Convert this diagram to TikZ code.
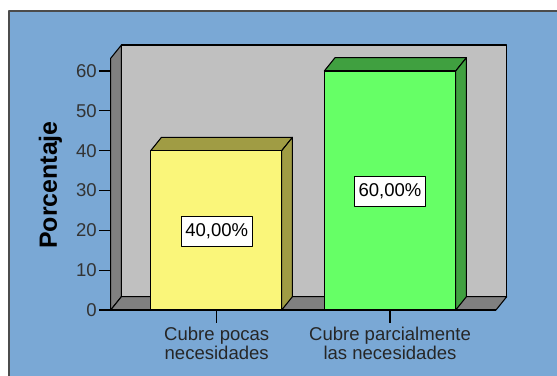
\documentclass[tikz,border=0pt]{standalone}
\usepackage{fontspec}
\setmainfont{Liberation Sans}
\usetikzlibrary{calc}
\definecolor{panelblue}{RGB}{122,168,213}
\definecolor{wallgray}{RGB}{192,192,192}
\definecolor{sidegray}{RGB}{128,128,128}
\definecolor{baryellow}{RGB}{250,246,122}
\definecolor{darkyellow}{RGB}{160,156,68}
\definecolor{bargreen}{RGB}{102,255,102}
\definecolor{darkgreen}{RGB}{64,160,64}

\begin{document}
\begin{tikzpicture}[x=0.75pt,y=-0.75pt,line join=round,
  edge/.style={draw=black, line width=0.8pt},
  valuebox/.style={draw=black, line width=0.6pt, fill=white, inner xsep=3pt,
    minimum height=22.5pt, font=\fontsize{13.9}{16}\selectfont},
  ticklabel/.style={anchor=east, inner sep=0pt, text=black!80,
    font=\fontsize{13.9}{16}\selectfont},
  catlabel/.style={anchor=north, align=center, inner sep=0pt, text=black!85,
    font=\fontsize{13.9}{12.5}\selectfont}]

  % Page and panel
  \useasboundingbox (0,0) rectangle (557,375);
  \clip (0,0) rectangle (557,375);
  \fill[white] (0,0) rectangle (557,375);
  \draw[fill=panelblue, draw=black!70, line width=0.8pt] (9,11) rectangle (580,400);

  % Back wall
  \fill[wallgray, edge] (121.4,45) rectangle (506.7,296.7);

  % Side wall and floor
  \fill[sidegray, edge] (110.7,310) -- (110.7,58.3) -- (121.4,45) -- (121.4,296.7) -- cycle;
  \fill[sidegray, edge] (110.7,310) -- (121.4,296.7) -- (506.7,296.7) -- (496,310) -- cycle;

  % Yellow bar (40)
  \fill[darkyellow, edge] (150.7,150.7) -- (161.4,137.4) -- (292.4,137.4) -- (281.7,150.7) -- cycle;
  \fill[darkyellow, edge] (281.7,150.7) -- (292.4,137.4) -- (292.4,296.7) -- (281.7,310) -- cycle;
  \fill[baryellow, edge] (150.7,150.7) rectangle (281.7,310);

  % Green bar (60)
  \fill[darkgreen, edge] (324.3,71) -- (335,57.7) -- (466.4,57.7) -- (455.7,71) -- cycle;
  \fill[darkgreen, edge] (455.7,71) -- (466.4,57.7) -- (466.4,296.7) -- (455.7,310) -- cycle;
  \fill[bargreen, edge] (324.3,71) rectangle (455.7,310);

  % Axes and ticks
  \draw[edge] (110.7,310) -- (110.7,58.3);
  \draw[edge] (99,310) -- (496,310);
  \draw[edge] (99,310) -- (110.7,310);
  \draw[edge] (99,270.2) -- (110.7,270.2);
  \draw[edge] (99,230.3) -- (110.7,230.3);
  \draw[edge] (99,190.5) -- (110.7,190.5);
  \draw[edge] (99,150.7) -- (110.7,150.7);
  \draw[edge] (99,110.8) -- (110.7,110.8);
  \draw[edge] (99,71) -- (110.7,71);
  \draw[edge] (216.7,310) -- (216.7,322.7);
  \draw[edge] (390,310) -- (390,322.7);

  % Tick labels
  \node[ticklabel] (y0) at (97,310) {0};
  \node[ticklabel] (y10) at (97,270.2) {10};
  \node[ticklabel] (y20) at (97,230.3) {20};
  \node[ticklabel] (y30) at (97,190.5) {30};
  \node[ticklabel] (y40) at (97,150.7) {40};
  \node[ticklabel] (y50) at (97,110.8) {50};
  \node[ticklabel] (y60) at (97,71) {60};

  % Axis title
  \node[rotate=90, inner sep=0pt, font=\fontsize{18.7}{20}\selectfont\bfseries] (ytitle) at (50.5,185) {Porcentaje};

  % Category labels
  \node[catlabel] (pocas) at (216.7,327) {Cubre pocas\\necesidades};
  \node[catlabel] (parcial) at (390,327) {Cubre parcialmente\\las necesidades};

  % Value labels
  \node[valuebox] (v40) at (216.8,231) {40,00\%};
  \node[valuebox] (v60) at (390,191) {60,00\%};

\end{tikzpicture}
\end{document}
